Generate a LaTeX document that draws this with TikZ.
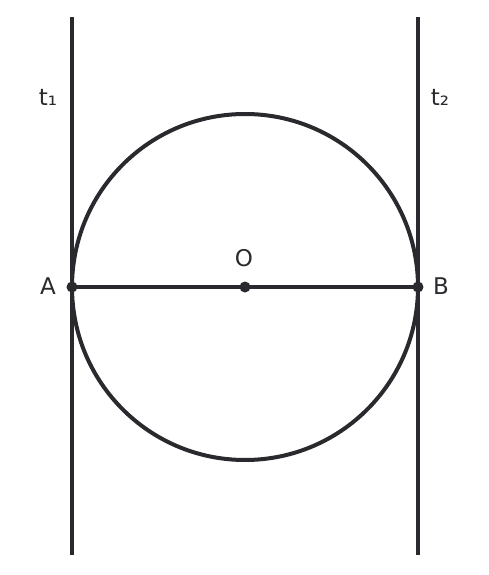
\documentclass[tikz,border=0pt]{standalone}
\usepackage{fontspec}
\setmainfont{DejaVu Sans}
\definecolor{ink}{HTML}{2A2A2E}
\begin{document}
\begin{tikzpicture}[x=0.5pt,y=0.5pt,
            line width=2pt, draw=ink,
            dot/.style = {circle, fill=ink, inner sep=0pt, minimum size=5.5pt},
            lbl/.style = {text=ink, font=\fontsize{11.5}{14}\selectfont}]
            \useasboundingbox (0,0) rectangle (489,575);
            \node[dot] (O) at (245,288) {};
            \node[dot] (A) at (72,288) {};
            \node[dot] (B) at (418,288) {};
            \coordinate (t1top) at (72,558);
            \coordinate (t1bot) at (72,20);
            \coordinate (t2top) at (418,558);
            \coordinate (t2bot) at (418,20);
            \draw[ink] (O.center) circle (173);
            \draw[ink] (t1top) -- (t1bot);
            \draw[ink] (t2top) -- (t2bot);
            \draw[ink] (A.center) -- (B.center);
            \node[lbl] (lt1) at (48,478) {t₁};
            \node[lbl] (lt2) at (440,478) {t₂};
            \node[lbl] (lO) at (244,317) {O};
            \node[lbl] (lA) at (48,289) {A};
            \node[lbl] (lB) at (441,289) {B};
        \end{tikzpicture}
\end{document}
